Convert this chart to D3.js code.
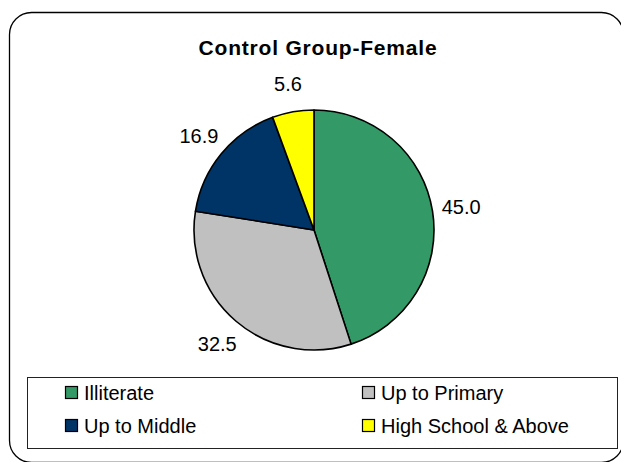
<!DOCTYPE html>
<html>
<head>
<meta charset="utf-8">
<script src="https://cdn.jsdelivr.net/npm/d3@7"></script>
<style>
  body { margin: 0; background: #fff; }
  svg { display: block; font-family: "Liberation Sans", Arial, sans-serif; }
</style>
</head>
<body>
<script>
// data
const categories = ["Illiterate", "Up to Primary", "Up to Middle", "High School & Above"];
const values = [45.0, 32.5, 16.9, 5.6];
const colors = ["#339966", "#C0C0C0", "#003366", "#FFFF00"];
const title = "Control Group-Female";

const W = 621, H = 462,
      cx = 314, cy = 230, r = 120;

const svg = d3.select("body").append("svg")
    .attr("width", W)
    .attr("height", H);

// outer rounded frame (runs off the right/bottom edge a bit)
svg.append("rect")
    .attr("x", 9.5).attr("y", 12.5)
    .attr("width", 614).attr("height", 450)
    .attr("rx", 22).attr("ry", 22)
    .attr("fill", "#fff")
    .attr("stroke", "#000")
    .attr("stroke-width", 1.3);

// title
svg.append("text")
    .attr("x", 318).attr("y", 55)
    .attr("text-anchor", "middle")
    .attr("font-size", 21)
    .attr("font-weight", "bold")
    .attr("letter-spacing", 0.8)
    .text(title);

// pie
const pie = d3.pie().sort(null).value(d => d)(values);
const arc = d3.arc().innerRadius(0).outerRadius(r);
const labelArc = d3.arc().innerRadius(r + 29).outerRadius(r + 29);

const g = svg.append("g").attr("transform", `translate(${cx},${cy})`);

g.selectAll("path")
    .data(pie)
    .join("path")
    .attr("d", arc)
    .attr("fill", (d, i) => colors[i])
    .attr("stroke", "#000")
    .attr("stroke-width", 1.6)
    .attr("stroke-linejoin", "round");

g.selectAll("text.lbl")
    .data(pie)
    .join("text")
    .attr("class", "lbl")
    .attr("transform", d => `translate(${labelArc.centroid(d)})`)
    .attr("text-anchor", "middle")
    .attr("dy", "0.36em")
    .attr("font-size", 20)
    .text(d => d.data.toFixed(1));

// legend
const leg = svg.append("g");
leg.append("rect")
    .attr("x", 27.5).attr("y", 377.5)
    .attr("width", 590).attr("height", 71)
    .attr("fill", "#fff")
    .attr("stroke", "#222")
    .attr("stroke-width", 1);

const col = d3.scalePoint().domain([0, 1]).range([65, 362]);
const row = d3.scalePoint().domain([0, 1]).range([393, 426]);

const items = leg.selectAll("g.item")
    .data(categories)
    .join("g")
    .attr("class", "item")
    .attr("transform", (d, i) => `translate(${col(i % 2)},${row(Math.floor(i / 2))})`);

items.append("rect")
    .attr("x", 0.5).attr("y", -6.5)
    .attr("width", 12).attr("height", 12)
    .attr("fill", (d, i) => colors[i])
    .attr("stroke", "#000")
    .attr("stroke-width", 1.2);

items.append("text")
    .attr("x", 19)
    .attr("dy", "0.36em")
    .attr("font-size", 20)
    .text(d => d);
</script>
</body>
</html>
